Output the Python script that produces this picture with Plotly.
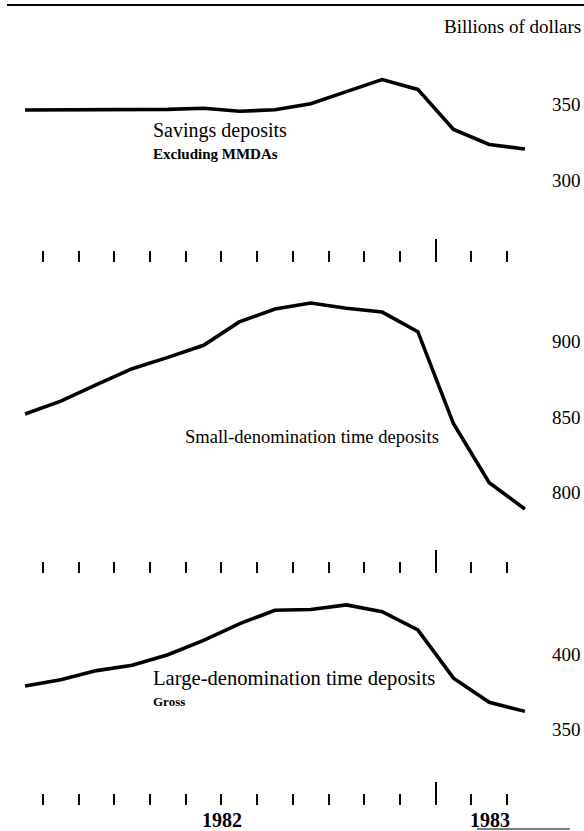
import plotly.graph_objects as go

# ---------------- data ----------------
months = ["Jan 1982", "Feb 1982", "Mar 1982", "Apr 1982", "May 1982", "Jun 1982",
          "Jul 1982", "Aug 1982", "Sep 1982", "Oct 1982", "Nov 1982", "Dec 1982",
          "Jan 1983", "Feb 1983", "Mar 1983"]
savings = [346.4, 346.5, 346.3, 346.5, 346.8, 347.5, 345.5, 346.5, 350.5, 358.5,
           366.5, 360.0, 333.5, 323.5, 320.5]
small_time = [852.0, 860.5, 871.5, 882.0, 889.5, 897.5, 913.0, 921.5, 925.5, 922.0,
              919.5, 906.5, 845.5, 806.5, 789.0]
large_time = [378.8, 383.0, 389.0, 392.5, 399.5, 409.0, 420.0, 429.0, 429.5, 432.5,
              428.0, 416.0, 384.0, 368.0, 362.0]
savings_ticks = [300, 350]
small_ticks = [800, 850, 900]
large_ticks = [350, 400]
year_labels = ["1982", "1983"]

# ---------------- layout helpers ----------------
W, H = 584, 831
ML, MR = 9, 43
PW = W - ML - MR
FONT = "Liberation Serif, Times New Roman, serif"
x = list(range(len(months)))
boundaries = [i + 0.5 for i in range(len(months) - 1)]
year_bound = [i + 0.5 for i in range(len(months) - 1)
              if months[i].split()[1] != months[i + 1].split()[1]]


def px(xp):
    return (xp - ML) / PW


def py(yp):
    return 1 - yp / H


def dom(top_px, bot_px):
    return [py(bot_px), py(top_px)]


def yrange(top_px, bot_px, v0, p0, s=1.51):
    return [v0 - (bot_px - p0) / s, v0 + (p0 - top_px) / s]


panels = [
    (savings, savings_ticks, 60, 262, 350, 104.5),
    (small_time, small_ticks, 280, 573, 900, 341.5),
    (large_time, large_ticks, 590, 805, 400, 654.0),
]

fig = go.Figure()
layout = dict(
    width=W, height=H,
    margin=dict(l=ML, r=MR, t=0, b=0),
    paper_bgcolor="white", plot_bgcolor="white",
    showlegend=False,
    font=dict(family=FONT, size=19, color="black"),
)

for k, (vals, ticks, top, bot, v0, p0) in enumerate(panels):
    sfx = "" if k == 0 else str(k + 1)
    fig.add_trace(go.Scatter(
        x=x, y=vals, mode="lines",
        line=dict(color="black", width=3.6),
        xaxis="x" + sfx, yaxis="y" + sfx, hoverinfo="skip",
    ))
    layout["xaxis" + sfx] = dict(
        domain=[0, 1], range=[-0.45, 14.45], anchor="y" + sfx,
        showgrid=False, zeroline=False, showline=False,
        showticklabels=False,
        tickmode="array", tickvals=year_bound,
        ticks="inside", ticklen=23, tickwidth=2.2, tickcolor="black",
        minor=dict(tickmode="array", tickvals=boundaries, ticks="inside",
                   ticklen=11, tickwidth=2, tickcolor="black"),
    )
    layout["yaxis" + sfx] = dict(
        domain=dom(top, bot), range=yrange(top, bot, v0, p0),
        anchor="x" + sfx, side="right",
        showgrid=False, zeroline=False, showline=False,
        tickmode="array", tickvals=ticks, ticks="",
        ticklabelstandoff=10,
        tickfont=dict(family=FONT, size=19, color="black"),
    )

fig.update_layout(**layout)

ann = []
def add_text(text, xp, yp, size, xanchor="left", bold=False):
    ann.append(dict(
        text=("<b>%s</b>" % text) if bold else text,
        x=px(xp), y=py(yp), xref="paper", yref="paper",
        xanchor=xanchor, yanchor="middle", showarrow=False,
        font=dict(family=FONT, size=size, color="black"),
    ))

add_text("Billions of dollars", 583, 26, 19, xanchor="right")
add_text("Savings deposits", 151, 131, 20)
add_text("Excluding MMDAs", 151, 154, 15, bold=True)
add_text("Small-denomination time deposits", 441, 437, 18.5, xanchor="right")
add_text("Large-denomination time deposits", 151, 678, 20.6)
add_text("Gross", 151, 701, 13, bold=True)
add_text(year_labels[0], 222, 820, 20, xanchor="center", bold=True)
add_text(year_labels[1], 490, 820, 20, xanchor="center", bold=True)
fig.update_layout(annotations=ann)

fig.update_layout(shapes=[
    dict(type="line", xref="paper", yref="paper", x0=px(7), x1=px(584),
         y0=py(5), y1=py(5), line=dict(color="black", width=2)),
    dict(type="line", xref="paper", yref="paper", x0=px(477), x1=px(570),
         y0=py(829), y1=py(829), line=dict(color="black", width=1.2)),
])

fig.write_html("out.html", config={"displayModeBar": False},
               post_script="document.body.style.margin='0px';")
